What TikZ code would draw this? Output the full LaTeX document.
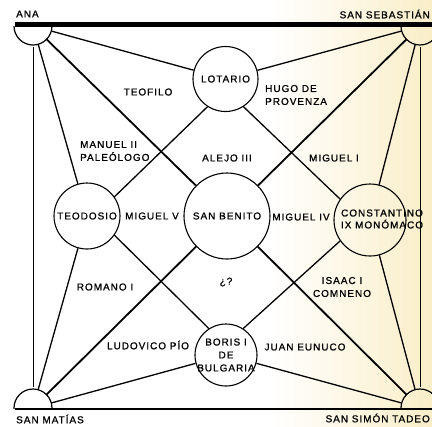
\documentclass[tikz,border=0pt]{standalone}
\usepackage{fontspec}
\setmainfont{Liberation Sans}[LetterSpace=10, FakeBold=1]
\definecolor{bgy}{RGB}{250,238,200}
\begin{document}
\begin{tikzpicture}[x=1bp,y=-1bp,
  lbl/.style={font=\fontsize{10}{13}\selectfont, inner sep=0, align=center},
  lblL/.style={font=\fontsize{10}{13}\selectfont, inner sep=0, align=left, anchor=west},
  cornerlbl/.style={font=\fontsize{10}{11}\selectfont, inner sep=0, anchor=west},
  circ/.style={draw, circle, line width=1.1bp, inner sep=0},
  edge/.style={line width=1.3bp},
  bold/.style={line width=1.8bp},
  semi/.style={line width=1.2bp},
  vert/.style={line width=1bp}]
\useasboundingbox (0,0) rectangle (432,427);
\fill[white] (0,0) rectangle (432,427);
\shade[left color=white, right color=bgy] (270,0) rectangle (432,427);

% corners
\coordinate (ana) at (33,26);
\coordinate (seb) at (420,26);
\coordinate (mat) at (33,408);
\coordinate (sim) at (420,408);

% circles
\node[circ, minimum size=65bp] (lot) at (225.5,79) {};
\node[circ, minimum size=66bp] (teo) at (87,216) {};
\node[circ, minimum size=86bp] (ben) at (227,216) {};
\node[circ, minimum size=72bp] (con) at (370,220) {};
\node[circ, minimum size=62bp] (bor) at (226,355) {};

% frame lines
\draw[line width=5bp] (15,24) -- (432,24);
\draw[line width=2.5bp] (15,409) -- (432,409);
\draw[vert, shorten <=21bp, shorten >=21bp] (ana) -- (mat);
\draw[vert, shorten <=21bp, shorten >=21bp] (seb) -- (sim);

% corner semicircles (clipped circles)
\begin{scope}
  \clip (0,26) rectangle (60,60);
  \draw[semi] (ana) circle[radius=19bp];
\end{scope}
\begin{scope}
  \clip (380,26) rectangle (432,60);
  \draw[semi] (seb) circle[radius=19bp];
\end{scope}
\begin{scope}
  \clip (0,380) rectangle (60,408);
  \draw[semi] (mat) circle[radius=19bp];
\end{scope}
\begin{scope}
  \clip (380,380) rectangle (432,408);
  \draw[semi] (sim) circle[radius=19bp];
\end{scope}

% corner connectors
\draw[edge, shorten <=19bp] (ana) -- (lot);
\draw[edge, shorten <=19bp] (ana) -- (teo);
\draw[bold, shorten <=19bp] (ana) -- (ben);
\draw[edge, shorten <=19bp] (seb) -- (lot);
\draw[edge, shorten <=19bp] (seb) -- (con);
\draw[bold, shorten <=19bp] (seb) -- (ben);
\draw[edge, shorten <=19bp] (mat) -- (teo);
\draw[edge, shorten <=19bp] (mat) -- (bor);
\draw[bold, shorten <=19bp] (mat) -- (ben);
\draw[edge, shorten <=19bp] (sim) -- (con);
\draw[edge, shorten <=19bp] (sim) -- (bor);
\draw[bold, shorten <=19bp] (sim) -- (ben);

% diamond
\draw[edge] (lot.237) -- (teo.35);
\draw[edge] (lot.303) -- (con.145);
\draw[edge] (teo.-35) -- (bor.123);
\draw[edge] (bor.57) -- (con.-145);

% texts in circles
\node[lbl] (tlot) at (lot) {LOTARIO};
\node[lbl] (tteo) at (teo) {TEODOSIO};
\node[lbl] (tben) at (ben) {SAN BENITO};
\node[lbl, align=center] (tcon) at (382,219) {CONSTANTINO\\[-1bp]IX MONÓMACO};
\node[lbl] (tbor) at (bor) {BORIS I\\DE\\BULGARIA};

% edge labels
\node[lbl] (teof) at (148,92) {TEOFILO};
\node[lblL] (hugo) at (265,95) {HUGO DE\\PROVENZA};
\node[lblL] (manu) at (80,151) {MANUEL II\\PALEÓLOGO};
\node[lbl] (alej) at (227,158) {ALEJO III};
\node[lbl] (migi) at (334,158) {MIGUEL I};
\node[lbl] (migv) at (152,216) {MIGUEL V};
\node[lbl] (migiv) at (301,217) {MIGUEL IV};
\node[lbl] (roma) at (105,287) {ROMANO I};
\node[lbl] (quest) at (226,282) {¿?};
\node[lbl] (isaac) at (342,287) {ISAAC I\\COMNENO};
\node[lbl] (ludo) at (148,345) {LUDOVICO PÍO};
\node[lbl] (juan) at (305,347) {JUAN EUNUCO};

% corner labels
\node[cornerlbl] (lana) at (16,14) {ANA};
\node[cornerlbl, anchor=east] (lseb) at (430,14) {SAN SEBASTIÁN};
\node[cornerlbl] (lmat) at (16,419) {SAN MATÍAS};
\node[cornerlbl, anchor=east] (lsim) at (430,418) {SAN SIMÓN TADEO};
\end{tikzpicture}
\end{document}
